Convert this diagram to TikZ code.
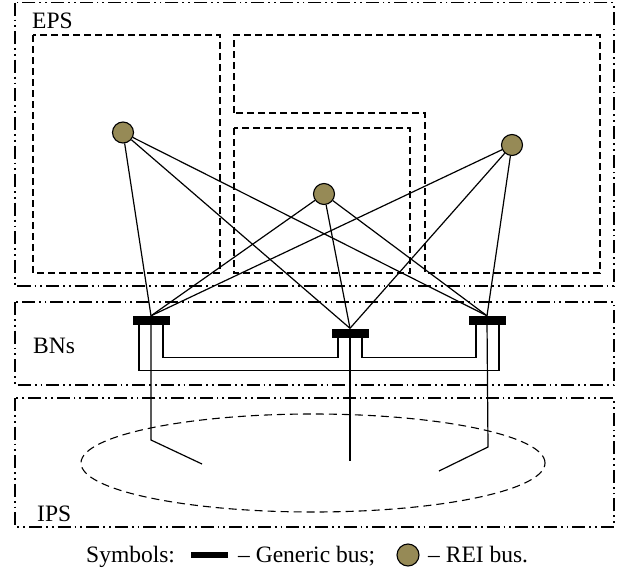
\documentclass[tikz,border=0pt]{standalone}
\usepackage{fontspec}
\setmainfont{Liberation Serif}
\definecolor{reicol}{RGB}{150,138,86}
\begin{document}
\begin{tikzpicture}[x=1pt,y=-1pt,
  region/.style={line width=1.4pt, dash pattern=on 13pt off 4pt on 1.8pt off 4pt on 1.8pt off 4pt},
  zone/.style={line width=1.5pt, dash pattern=on 7pt off 4pt},
  cloud/.style={line width=1.1pt, dash pattern=on 8pt off 5pt},
  link/.style={line width=1.2pt},
  rei/.style={circle, draw, line width=1.1pt, fill=reicol, minimum size=21pt, inner sep=0pt},
  gbus/.style={rectangle, fill=black, minimum width=37pt, minimum height=9pt, inner sep=0pt},
  lbl/.style={font=\fontsize{23.5}{26}\selectfont, inner sep=0pt}]
\useasboundingbox (0,0) rectangle (621,570);
\fill[white] (0,0) rectangle (621,570);

% regions
\draw[region] (15,2.5) rectangle (614,286);
\draw[region] (15,302) rectangle (614,385);
\draw[region] (15,398) rectangle (614,527);

\node[lbl, anchor=base west] (eps) at (32,28) {EPS};
\node[lbl, anchor=base west] (bns) at (33,353) {BNs};
\node[lbl, anchor=base west] (ips) at (37,521) {IPS};

% zones
\draw[zone] (33,35) rectangle (220,273);
\draw[zone] (234,113) -- (234,35) -- (600,35) -- (600,273) -- (425,273) -- (425,113) -- cycle;
\draw[zone] (234,128) rectangle (410,273);

% IPS cloud
\draw[cloud] (313,463) ellipse [x radius=232pt, y radius=49pt];

% nodes
\node[rei] (r1) at (123,132.5) {};
\node[rei] (r2) at (324,194) {};
\node[rei] (r3) at (512,145) {};
\node[gbus] (b1) at (151,320.5) {};
\node[gbus] (b2) at (350,333) {};
\node[gbus] (b3) at (487,320.5) {};

% connectors REI -> buses
\foreach \r in {r1,r2,r3}{
  \foreach \b in {b1,b2,b3}{
    \draw[link] (\r) -- (\b.north);
  }
}

% bus interconnections
\draw[link] ([xshift=12pt]b1.south) -- ++(0,32) -| ([xshift=-12pt]b2.south);
\draw[link] ([xshift=12pt]b2.south) -- ++(0,19.5) -| ([xshift=-11pt]b3.south);
\draw[link] ([xshift=-12pt]b1.south) -- ++(0,45) -| ([xshift=12pt]b3.south);

% drops into IPS
\coordinate (d1) at (151,440);
\coordinate (t1) at (202,464);
\coordinate (d2) at (350,461);
\coordinate (d3) at (488,447);
\coordinate (t3) at (439,471);
\draw[link] (b1.center) -- (d1) -- (t1);
\draw[link] (b2.center) -- (d2);
\draw[link] (b3.center) -- (d3) -- (t3);

% legend
\node[lbl, anchor=base west] (sym) at (86,562) {Symbols:};
\node[gbus, minimum width=37pt, minimum height=6pt] (lb) at (209.5,555) {};
\node[lbl, anchor=base west] (lg) at (238,562) {– Generic bus;};
\node[rei, minimum size=22pt] (lr) at (408,555) {};
\node[lbl, anchor=base west] (lt) at (428,562) {– REI bus.};
\end{tikzpicture}
\end{document}
